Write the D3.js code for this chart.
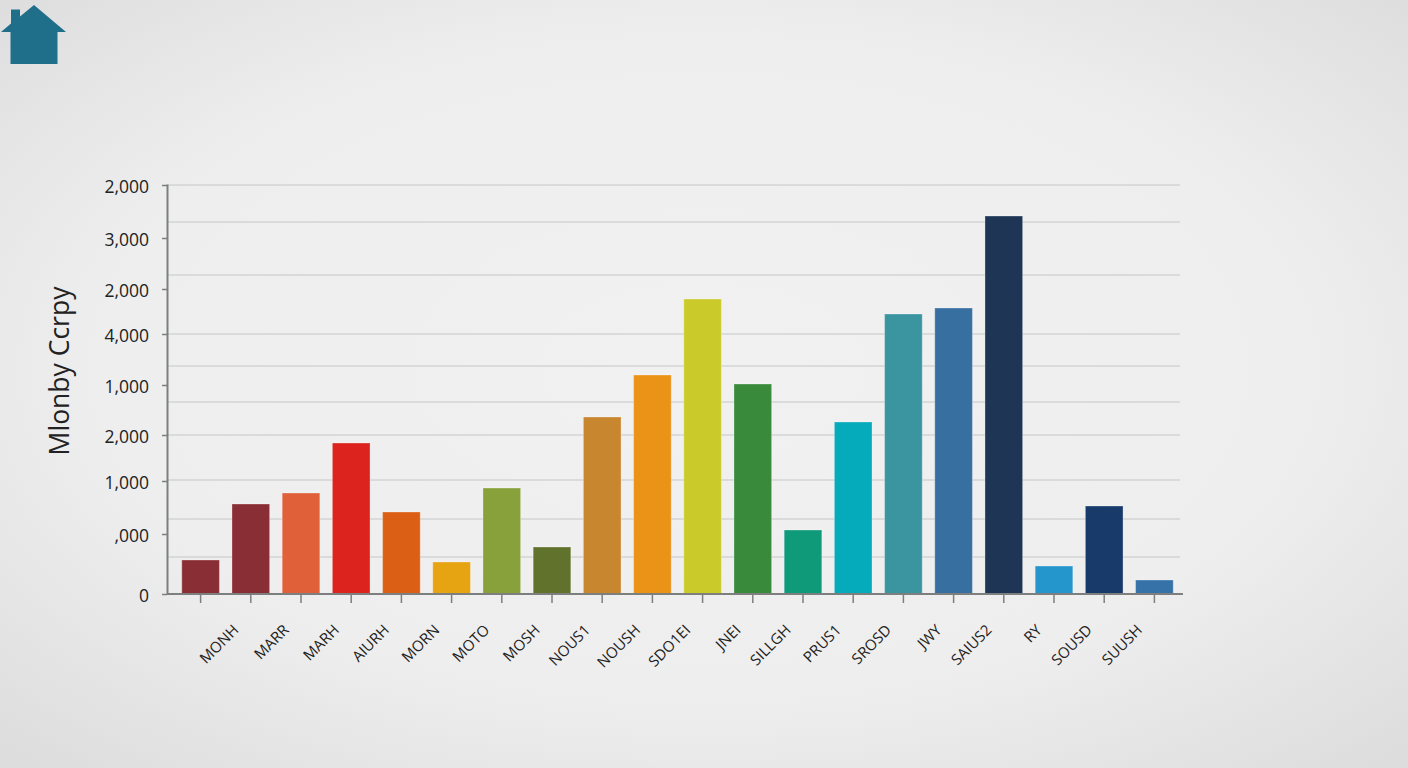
<!DOCTYPE html>
<html>
<head>
<meta charset="utf-8">
<script src="https://cdn.jsdelivr.net/npm/d3@7"></script>
<style>
    html, body { margin: 0; padding: 0; overflow: hidden; }
    body { width: 1408px; height: 768px; }
    text { font-family: "Open Sans", sans-serif; fill: #222; }
    .x-axis text { font-size: 15px; }
    .y-axis text { font-size: 17.5px; }
</style>
</head>
<body>
<div class="canvas"></div>
<script>
// the labels in the picture are not in order, so the axis runs on a plain
// value scale and the tick labels are kept next to their tick values
const labels = ['MONH', 'MARR', 'MARH', 'AIURH', 'MORN', 'MOTO', 'MOSH', 'NOUS1', 'NOUSH', 'SDO1EI',
    'JNEI', 'SILLGH', 'PRUS1', 'SROSD', 'JWY', 'SAIUS2', 'RY', 'SOUSD', 'SUUSH', '']
const values = [340, 900, 1010, 1510, 820, 320, 1060, 470, 1770, 2190,
    2950, 2100, 640, 1720, 2800, 2860, 3780, 280, 880, 140]
const colors = ['#8a2e35', '#8a2e35', '#e0603a', '#dc231d', '#db6015', '#e6a312', '#88a13a', '#60722c', '#c8862f', '#ea9317',
    '#cbca2b', '#3a8a3c', '#0f9a7a', '#05aabb', '#3a95a0', '#386fa1', '#1f3556', '#2596cc', '#183a6b', '#3672a8']
const tickValues = [4090, 3560, 3050, 2600, 2090, 1590, 1130, 600, 0]
const tickLabels = ['2,000', '3,000', '2,000', '4,000', '1,000', '2,000', '1,000', ',000', '0']
const gridValues = [4090, 3720, 3190, 2600, 2280, 1920, 1590, 1140, 750, 370]

const width = 1408,
    height = 768,
    plotLeft = 167,
    plotRight = 1183,
    plotTop = 184,
    plotBottom = 594

let svg = d3.select('.canvas').append('svg')
    .attr('width', width)
    .attr('height', height)
    .style('display', 'block')

// BACKGROUND
let bg = svg.append('defs').append('radialGradient')
    .attr('id', 'bg')
    .attr('cx', '50%').attr('cy', '48%').attr('r', '72%')
bg.append('stop').attr('offset', '0%').attr('stop-color', '#f1f1f1')
bg.append('stop').attr('offset', '60%').attr('stop-color', '#eeeeee')
bg.append('stop').attr('offset', '100%').attr('stop-color', '#dcdcdc')

svg.append('rect')
    .attr('width', width)
    .attr('height', height)
    .attr('fill', 'url(#bg)')

// HOUSE ICON
svg.append('path')
    .attr('d', 'M1,32 L11,23.5 L11,9.5 L20,9.5 L20,16.5 L34,5 L66,32 L57.5,32 L57.5,64 L10.5,64 L10.5,32 Z')
    .attr('fill', '#1f6f8b')

// SCALES
let x = d3.scaleBand()
    .domain(d3.range(values.length))
    .range([175.5, 1179.5])
    .paddingInner(0.25)
    .paddingOuter(0.125)

let y = d3.scaleLinear()
    .domain([0, 4100])
    .range([plotBottom, plotTop])

// GRID
svg.append('g').selectAll('line')
    .data(gridValues)
    .enter().append('line')
    .attr('x1', plotLeft)
    .attr('x2', 1180)
    .attr('y1', d => y(d))
    .attr('y2', d => y(d))
    .attr('stroke', '#c4c6c6')
    .attr('stroke-width', 1)

// BARS
svg.append('g').selectAll('rect')
    .data(values)
    .enter().append('rect')
    .attr('x', (d, i) => x(i))
    .attr('y', d => y(d))
    .attr('width', x.bandwidth())
    .attr('height', d => y(0) - y(d))
    .attr('fill', (d, i) => colors[i])
    .attr('stroke', 'white')
    .attr('stroke-opacity', 0.3)
    .attr('stroke-width', 1)

// AXES
let xAxis = svg.append('g')
    .classed('x-axis', true)
    .attr('transform', `translate(0, ${plotBottom})`)
    .call(d3.axisBottom(x).tickSize(9).tickSizeOuter(0).tickFormat(i => labels[i]))
xAxis.select('.domain')
    .attr('stroke', '#7d7f7f')
    .attr('stroke-width', 2)
    .attr('d', `M${plotLeft},0H${plotRight}`)
xAxis.selectAll('.tick line').attr('stroke', '#7d7f7f').attr('stroke-width', 1.5)
xAxis.selectAll('.tick text')
    .attr('text-anchor', 'end')
    .attr('dy', 0)
    .attr('y', 0)
    .attr('transform', 'translate(39, 37) rotate(-45)')

let yAxis = svg.append('g')
    .classed('y-axis', true)
    .attr('transform', `translate(${plotLeft}, 0)`)
    .call(d3.axisLeft(y)
        .tickValues(tickValues)
        .tickSize(5)
        .tickSizeOuter(0)
        .tickFormat((d, i) => tickLabels[i]))
yAxis.select('.domain')
    .attr('stroke', '#7d7f7f')
    .attr('stroke-width', 2)
yAxis.selectAll('.tick line').attr('stroke', '#7d7f7f').attr('stroke-width', 1.5)
yAxis.selectAll('.tick text')
    .attr('x', -18)
    .attr('dy', '0.4em')

// LABELS
svg.append('text')
    .text('Mlonby Ccrpy')
    .attr('text-anchor', 'middle')
    .attr('transform', 'translate(69, 371) rotate(-90)')
    .style('font-size', '26.5px')
</script>
</body>
</html>
